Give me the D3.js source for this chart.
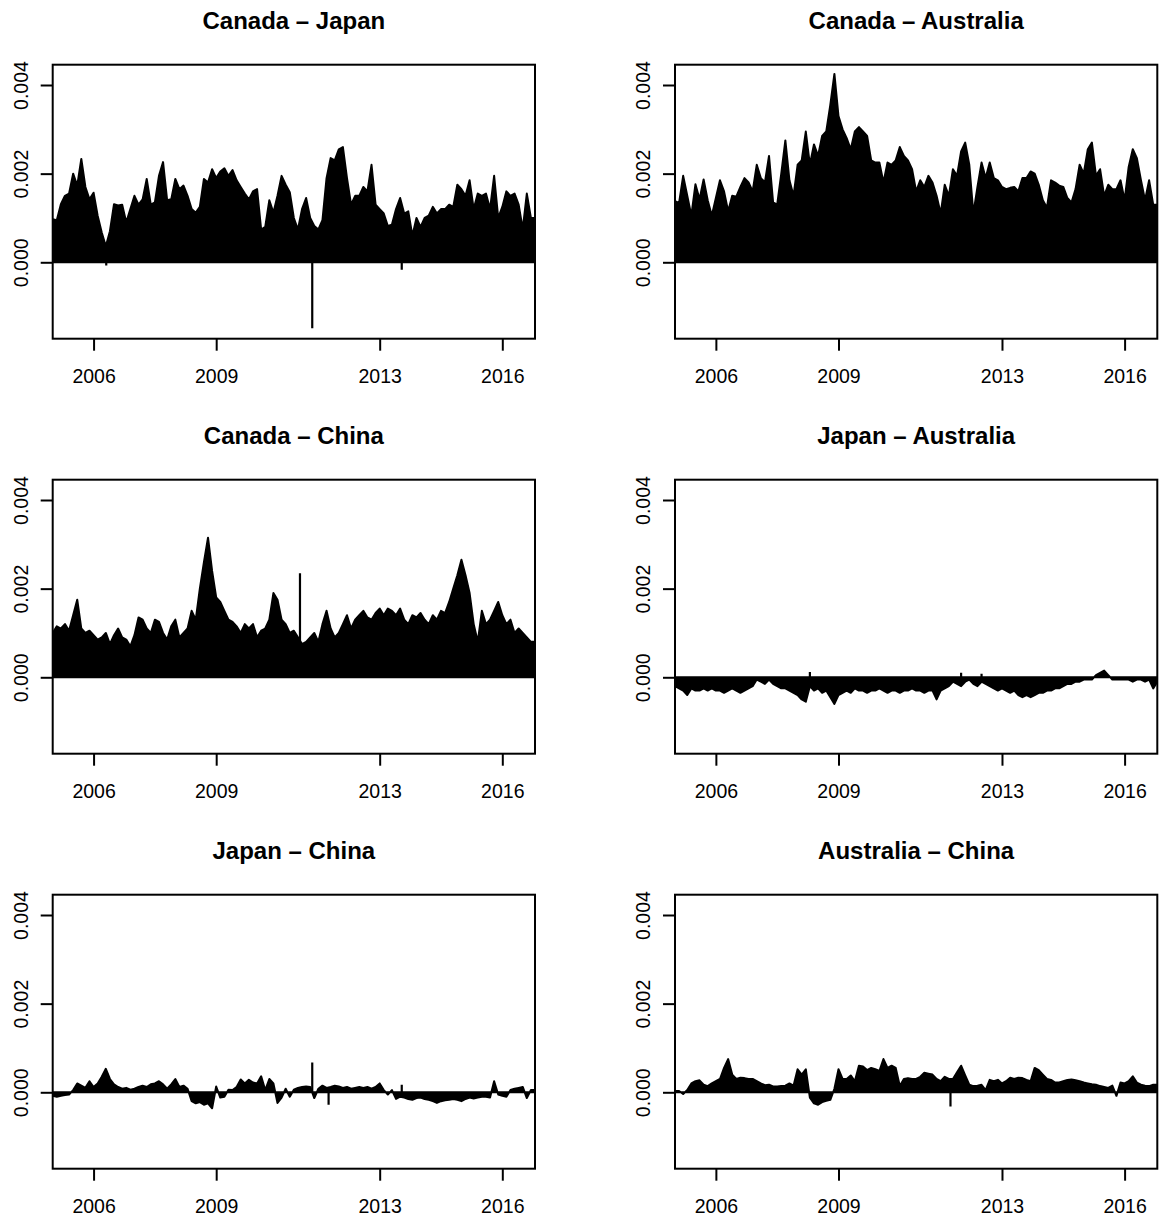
<!DOCTYPE html>
<html>
<head>
<meta charset="utf-8">
<script src="https://cdn.jsdelivr.net/npm/d3@7"></script>
<style>
  body { margin: 0; background: #fff; }
</style>
</head>
<body>
<div id="chart"></div>
<script>
// series are sampled like an R ts: start year + index / frequency
const tsStart = 2005, tsFreq = 10;

const titles = ["Canada \u2013 Japan", "Canada \u2013 Australia", "Canada \u2013 China",
                "Japan \u2013 Australia", "Japan \u2013 China", "Australia \u2013 China"];
const xTicks = [2006, 2009, 2013, 2016];
const yTicks = [0, 0.002, 0.004];

const canadaJapan = [
  0.00097,0.00095,0.00131,0.00150,0.00155,0.00200,0.00173,0.00233,0.00170,0.00142,
  0.00157,0.00105,0.00067,0.00036,0.00070,0.00131,0.00128,0.00130,0.00090,0.00120,
  0.00150,0.00130,0.00142,0.00188,0.00130,0.00135,0.00195,0.00226,0.00140,0.00142,
  0.00188,0.00165,0.00173,0.00150,0.00120,0.00112,0.00125,0.00188,0.00180,0.00210,
  0.00190,0.00205,0.00212,0.00195,0.00208,0.00185,0.00170,0.00155,0.00142,0.00160,
  0.00165,0.00074,0.00080,0.00140,0.00112,0.00150,0.00195,0.00175,0.00158,0.00100,
  0.00074,0.00120,0.00145,0.00100,0.00082,0.00074,0.00095,0.00190,0.00235,0.00230,
  0.00255,0.00260,0.00190,0.00130,0.00150,0.00150,0.00170,0.00160,0.00220,0.00130,
  0.00120,0.00110,0.00082,0.00085,0.00120,0.00145,0.00110,0.00115,0.00060,0.00100,
  0.00080,0.00100,0.00105,0.00125,0.00110,0.00120,0.00120,0.00130,0.00125,0.00175,
  0.00165,0.00150,0.00185,0.00120,0.00155,0.00150,0.00155,0.00120,0.00195,0.00100,
  0.00125,0.00160,0.00150,0.00155,0.00130,0.00075,0.00155,0.00100,0.00100];

const canadaAustralia = [
  0.00138,0.00134,0.00195,0.00150,0.00105,0.00176,0.00142,0.00187,0.00140,0.00105,
  0.00145,0.00185,0.00160,0.00115,0.00150,0.00148,0.00170,0.00190,0.00180,0.00160,
  0.00220,0.00190,0.00180,0.00240,0.00135,0.00130,0.00200,0.00275,0.00185,0.00150,
  0.00220,0.00230,0.00295,0.00220,0.00266,0.00240,0.00285,0.00295,0.00355,0.00425,
  0.00330,0.00300,0.00280,0.00255,0.00295,0.00305,0.00295,0.00285,0.00230,0.00225,
  0.00225,0.00180,0.00225,0.00220,0.00230,0.00260,0.00240,0.00230,0.00210,0.00160,
  0.00185,0.00170,0.00195,0.00180,0.00150,0.00110,0.00175,0.00150,0.00210,0.00195,
  0.00250,0.00270,0.00220,0.00110,0.00170,0.00225,0.00190,0.00225,0.00190,0.00185,
  0.00170,0.00165,0.00168,0.00170,0.00160,0.00190,0.00190,0.00205,0.00200,0.00175,
  0.00140,0.00123,0.00185,0.00180,0.00173,0.00170,0.00145,0.00135,0.00165,0.00220,
  0.00200,0.00255,0.00270,0.00195,0.00210,0.00150,0.00175,0.00165,0.00165,0.00185,
  0.00140,0.00215,0.00255,0.00235,0.00185,0.00140,0.00185,0.00130,0.00130];

const canadaChina = [
  0.00100,0.00115,0.00110,0.00120,0.00105,0.00140,0.00175,0.00110,0.00100,0.00105,
  0.00095,0.00085,0.00090,0.00100,0.00075,0.00095,0.00110,0.00090,0.00085,0.00070,
  0.00095,0.00135,0.00130,0.00110,0.00100,0.00130,0.00125,0.00100,0.00085,0.00115,
  0.00130,0.00090,0.00100,0.00110,0.00150,0.00130,0.00200,0.00260,0.00315,0.00240,
  0.00180,0.00170,0.00150,0.00130,0.00125,0.00115,0.00100,0.00120,0.00110,0.00120,
  0.00090,0.00105,0.00110,0.00130,0.00190,0.00175,0.00130,0.00120,0.00100,0.00105,
  0.00090,0.00075,0.00080,0.00090,0.00100,0.00080,0.00120,0.00150,0.00110,0.00090,
  0.00100,0.00120,0.00140,0.00110,0.00130,0.00140,0.00150,0.00135,0.00130,0.00145,
  0.00155,0.00140,0.00155,0.00150,0.00140,0.00155,0.00130,0.00120,0.00140,0.00135,
  0.00145,0.00130,0.00120,0.00140,0.00130,0.00150,0.00145,0.00170,0.00200,0.00230,
  0.00265,0.00230,0.00190,0.00120,0.00080,0.00150,0.00120,0.00130,0.00150,0.00170,
  0.00140,0.00120,0.00130,0.00100,0.00110,0.00100,0.00090,0.00080,0.00080];

const japanAustralia = [
  -0.00020,-0.00025,-0.00030,-0.00040,-0.00025,-0.00030,-0.00030,-0.00025,-0.00030,-0.00025,
  -0.00030,-0.00030,-0.00035,-0.00030,-0.00025,-0.00030,-0.00035,-0.00030,-0.00025,-0.00020,
  -0.00005,-0.00010,-0.00015,-0.00005,-0.00015,-0.00020,-0.00025,-0.00025,-0.00030,-0.00035,
  -0.00040,-0.00050,-0.00055,-0.00020,-0.00030,-0.00025,-0.00035,-0.00030,-0.00045,-0.00060,
  -0.00040,-0.00035,-0.00030,-0.00035,-0.00025,-0.00030,-0.00030,-0.00035,-0.00030,-0.00030,
  -0.00025,-0.00030,-0.00035,-0.00030,-0.00030,-0.00035,-0.00030,-0.00030,-0.00025,-0.00030,
  -0.00030,-0.00035,-0.00030,-0.00030,-0.00050,-0.00030,-0.00025,-0.00020,-0.00010,-0.00015,
  -0.00020,-0.00010,-0.00005,-0.00015,-0.00020,-0.00010,-0.00015,-0.00020,-0.00025,-0.00030,
  -0.00025,-0.00030,-0.00035,-0.00030,-0.00040,-0.00045,-0.00040,-0.00045,-0.00040,-0.00035,
  -0.00035,-0.00030,-0.00030,-0.00025,-0.00025,-0.00020,-0.00015,-0.00015,-0.00010,-0.00010,
  -0.00005,-0.00005,-0.00005,0.00005,0.00010,0.00015,0.00005,-0.00005,-0.00005,-0.00005,
  -0.00005,-0.00005,-0.00010,-0.00005,-0.00005,-0.00010,-0.00005,-0.00025,-0.00010];

const japanChina = [
  -0.00008,-0.00010,-0.00008,-0.00006,-0.00005,0.00005,0.00020,0.00015,0.00010,0.00025,
  0.00012,0.00020,0.00035,0.00053,0.00030,0.00018,0.00012,0.00008,0.00010,0.00006,
  0.00008,0.00012,0.00015,0.00012,0.00018,0.00020,0.00025,0.00018,0.00008,0.00018,
  0.00030,0.00012,0.00015,0.00008,-0.00020,-0.00025,-0.00022,-0.00028,-0.00025,-0.00036,
  0.00013,-0.00012,-0.00010,0.00006,0.00005,0.00012,0.00029,0.00020,0.00028,0.00022,
  0.00020,0.00036,0.00005,0.00030,0.00020,-0.00024,-0.00012,0.00008,-0.00010,0.00006,
  0.00010,0.00012,0.00013,0.00012,-0.00013,0.00008,0.00015,0.00010,0.00012,0.00015,
  0.00013,0.00010,0.00012,0.00008,0.00010,0.00012,0.00010,0.00012,0.00008,0.00012,
  0.00020,0.00005,-0.00005,0.00005,-0.00015,-0.00010,-0.00012,-0.00015,-0.00017,-0.00013,
  -0.00012,-0.00015,-0.00017,-0.00020,-0.00024,-0.00020,-0.00018,-0.00017,-0.00015,-0.00017,
  -0.00020,-0.00015,-0.00012,-0.00014,-0.00012,-0.00010,-0.00010,-0.00012,0.00025,-0.00005,
  -0.00008,-0.00010,0.00005,0.00008,0.00010,0.00012,-0.00013,0.00005,0.00005];

const australiaChina = [
  0.00003,0.00003,-0.00004,0.00005,0.00020,0.00025,0.00027,0.00017,0.00014,0.00020,
  0.00025,0.00030,0.00055,0.00075,0.00040,0.00030,0.00033,0.00032,0.00030,0.00030,
  0.00025,0.00020,0.00016,0.00017,0.00013,0.00013,0.00014,0.00015,0.00020,0.00015,
  0.00052,0.00040,0.00052,-0.00012,-0.00025,-0.00028,-0.00022,-0.00019,-0.00017,0.00008,
  0.00052,0.00030,0.00030,0.00038,0.00025,0.00060,0.00058,0.00050,0.00055,0.00052,
  0.00048,0.00075,0.00055,0.00060,0.00055,0.00014,0.00030,0.00032,0.00030,0.00030,
  0.00035,0.00044,0.00042,0.00040,0.00030,0.00025,0.00035,0.00030,0.00030,0.00045,
  0.00060,0.00038,0.00017,0.00014,0.00015,0.00017,0.00005,0.00028,0.00025,0.00028,
  0.00020,0.00025,0.00033,0.00030,0.00033,0.00032,0.00028,0.00025,0.00055,0.00050,
  0.00040,0.00030,0.00028,0.00022,0.00022,0.00025,0.00028,0.00029,0.00027,0.00025,
  0.00022,0.00020,0.00018,0.00017,0.00014,0.00012,0.00010,0.00015,-0.00008,0.00022,
  0.00020,0.00025,0.00036,0.00022,0.00017,0.00015,0.00014,0.00017,0.00017];

// single observations that stick out of the dense body: [year, value]
const spikesCanadaJapan = [[2011.35, -0.00149], [2006.31, -0.00007], [2013.54, -0.00017]];
const spikesCanadaAustralia = [];
const spikesCanadaChina = [[2011.05, 0.00235]];
const spikesJapanAustralia = [[2008.3, 0.00012], [2012.0, 0.00010], [2012.5, 0.00008]];
const spikesJapanChina = [[2011.35, 0.00067], [2011.75, -0.00028], [2013.54, 0.00017]];
const spikesAustraliaChina = [[2011.74, -0.00032]];

const panels = [
  {title: titles[0], values: canadaJapan, spikes: spikesCanadaJapan},
  {title: titles[1], values: canadaAustralia, spikes: spikesCanadaAustralia},
  {title: titles[2], values: canadaChina, spikes: spikesCanadaChina},
  {title: titles[3], values: japanAustralia, spikes: spikesJapanAustralia},
  {title: titles[4], values: japanChina, spikes: spikesJapanChina},
  {title: titles[5], values: australiaChina, spikes: spikesAustraliaChina}
];

const width = 1159, height = 1218;
const boxW = 482.3, boxH = 274;
const colX = [52.7, 675], rowY = [64.7, 479.7, 894.7];
const fontFamily = "'Liberation Sans', Arial, Helvetica, sans-serif";

let x = d3.scaleLinear().domain([2005.0, 2016.8]).range([0, boxW]);
let y = d3.scaleLinear().domain([-0.001724, 0.004458]).range([boxH, 0]);

let svg = d3.select("#chart")
    .append("svg")
    .attr("width", width)
    .attr("height", height)
    .style("background", "#fff");

panels.forEach(function(p, k) {
    let g = svg.append("g")
        .attr("transform", `translate(${colX[k % 2]}, ${rowY[Math.floor(k / 2)]})`);

    g.append("clipPath").attr("id", "clip" + k)
        .append("rect").attr("width", boxW).attr("height", boxH);

    let plot = g.append("g").attr("clip-path", `url(#clip${k})`);

    // dense type="h" series -> filled body between 0 and each value
    let area = d3.area()
        .x(function(d, i) { return x(tsStart + i / tsFreq); })
        .y0(y(0))
        .y1(function(d) { return y(d); });

    plot.append("path")
        .datum(p.values)
        .attr("d", area)
        .attr("fill", "#000")
        .attr("stroke", "#000")
        .attr("stroke-width", 2)
        .attr("stroke-linejoin", "round");

    plot.selectAll("line.spike")
        .data(p.spikes)
        .enter()
        .append("line")
        .attr("class", "spike")
        .attr("x1", function(d) { return x(d[0]); })
        .attr("x2", function(d) { return x(d[0]); })
        .attr("y1", y(0))
        .attr("y2", function(d) { return y(d[1]); })
        .attr("stroke", "#000")
        .attr("stroke-width", 2.2);

    // frame
    g.append("rect")
        .attr("width", boxW)
        .attr("height", boxH)
        .attr("fill", "none")
        .attr("stroke", "#000")
        .attr("stroke-width", 2);

    let yAxis = g.append("g")
        .call(d3.axisLeft(y).tickValues(yTicks).tickSize(12).tickFormat(d3.format(".3f")));
    yAxis.attr("font-family", fontFamily).attr("font-size", 19.5);
    yAxis.select(".domain").remove();
    yAxis.selectAll("line").attr("stroke-width", 2);
    yAxis.selectAll("text")
        .attr("x", 0)
        .attr("dy", 0)
        .attr("fill", "#000")
        .attr("text-anchor", "middle")
        .attr("transform", "translate(-24.7,0) rotate(-90)");

    let xAxis = g.append("g")
        .attr("transform", `translate(0, ${boxH})`)
        .call(d3.axisBottom(x).tickValues(xTicks).tickSize(12).tickFormat(d3.format("d")));
    xAxis.attr("font-family", fontFamily).attr("font-size", 19.5);
    xAxis.select(".domain").remove();
    xAxis.selectAll("line").attr("stroke-width", 2);
    xAxis.selectAll("text")
        .attr("y", 44)
        .attr("dy", 0)
        .attr("fill", "#000");

    g.append("text")
        .attr("x", boxW / 2)
        .attr("y", -36)
        .attr("text-anchor", "middle")
        .style("font-family", fontFamily)
        .style("font-size", "24px")
        .style("font-weight", "bold")
        .text(p.title);
});
</script>
</body>
</html>
